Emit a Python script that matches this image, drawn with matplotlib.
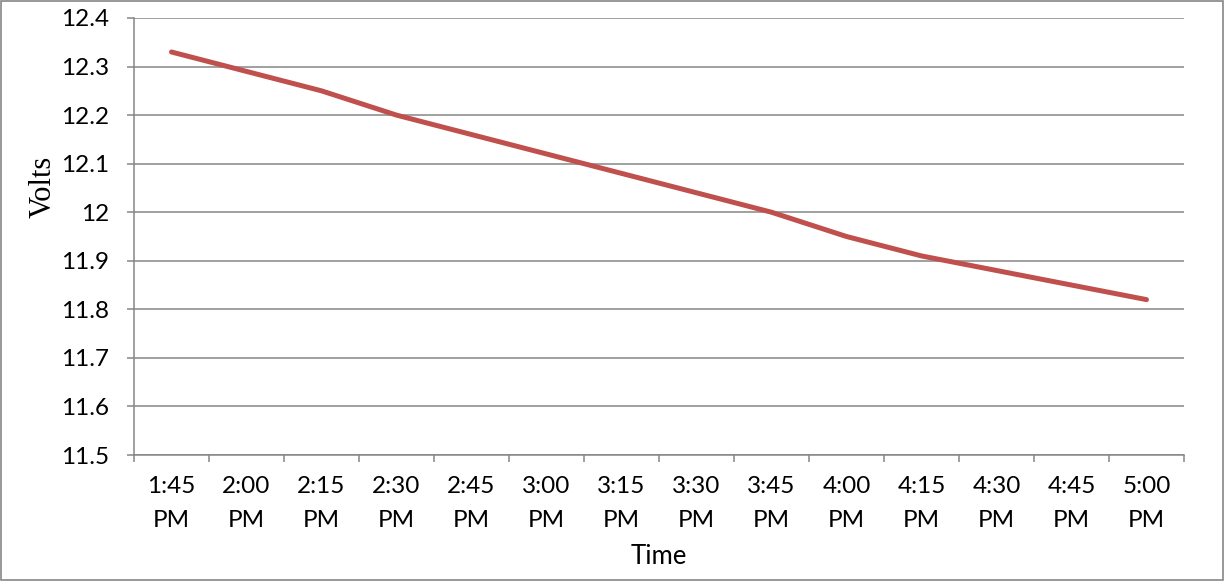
import matplotlib.pyplot as plt
from matplotlib.patches import Rectangle

times = ["1:45\nPM", "2:00\nPM", "2:15\nPM", "2:30\nPM", "2:45\nPM", "3:00\nPM", "3:15\nPM",
         "3:30\nPM", "3:45\nPM", "4:00\nPM", "4:15\nPM", "4:30\nPM", "4:45\nPM", "5:00\nPM"]
volts = [12.33, 12.29, 12.25, 12.20, 12.16, 12.12, 12.08,
         12.04, 12.00, 11.95, 11.91, 11.88, 11.85, 11.82]
y_ticks = [11.5, 11.6, 11.7, 11.8, 11.9, 12.0, 12.1, 12.2, 12.3, 12.4]

grey = "#868686"
plt.rcParams["font.family"] = ["Lato", "DejaVu Sans"]

fig = plt.figure(figsize=(12.25, 5.81), dpi=100)
ax = fig.add_axes([134 / 1225, 1 - 455 / 581, (1184 - 134) / 1225, (455 - 18) / 581])

x = list(range(len(times)))
ax.plot(x, volts, color="#C0504D", linewidth=3.6, solid_capstyle="round", zorder=3)

ax.set_xlim(-0.5, len(times) - 0.5)
ax.set_ylim(11.5, 12.4)
ax.set_yticks(y_ticks)
ax.set_yticklabels(["{:g}".format(v) for v in y_ticks])
ax.set_xticks(x)
ax.set_xticklabels(times, linespacing=1.75)
ax.set_xticks([i - 0.5 for i in range(len(times) + 1)], minor=True)

ax.grid(axis="y", color=grey, linewidth=1.1)
ax.set_axisbelow(True)
for s in ["top", "right"]:
    ax.spines[s].set_visible(False)
for s in ["left", "bottom"]:
    ax.spines[s].set_color(grey)
    ax.spines[s].set_linewidth(1.1)

ax.tick_params(axis="y", length=5, width=1.1, color=grey, pad=13, labelsize=17.5, labelcolor="black")
ax.tick_params(axis="x", which="major", length=0, pad=15, labelsize=17.5, labelcolor="black")
ax.tick_params(axis="x", which="minor", length=5, width=1.1, color=grey)

ax.set_xlabel("Time", fontsize=18.5, labelpad=10)
fig.text(43 / 1225, 1 - 187 / 581, "Volts", rotation=90, ha="center", va="center",
         fontsize=22, family="Liberation Serif")

fig.patches.append(Rectangle((0.0005, 0.001), 0.998, 0.997, transform=fig.transFigure,
                             fill=False, edgecolor=grey, linewidth=1.2))

fig.savefig("out.png", dpi=100)
